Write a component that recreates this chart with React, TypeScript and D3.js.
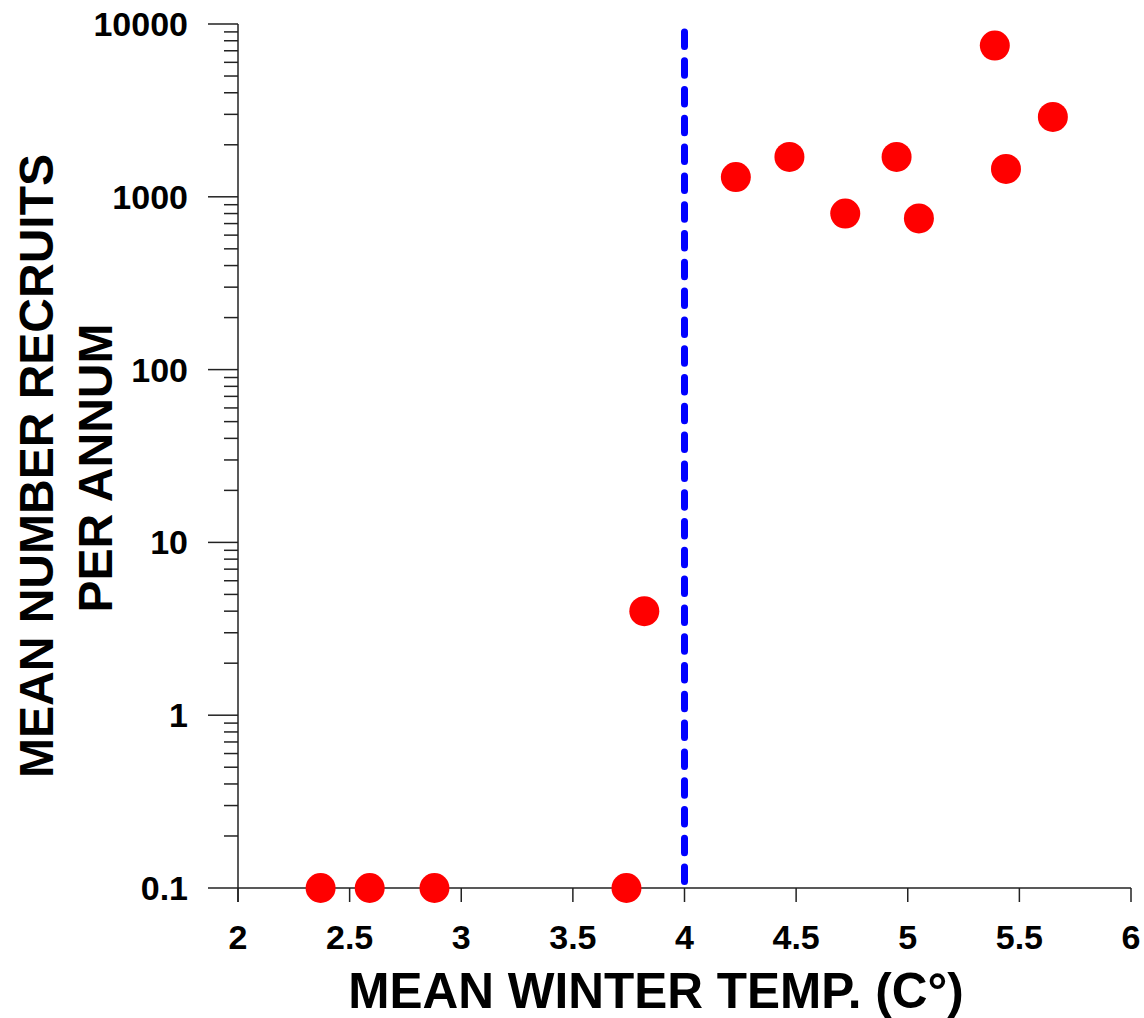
import React from "react";
import * as d3 from "d3";

const temps = [2.37, 2.59, 2.88, 3.74, 3.82, 4.23, 4.47, 4.72, 4.95, 5.05, 5.39, 5.44, 5.65];
const recruits = [0.1, 0.1, 0.1, 0.1, 4, 1300, 1700, 800, 1700, 750, 7500, 1450, 2900];
const xTicks = [2, 2.5, 3, 3.5, 4, 4.5, 5, 5.5, 6];
const xTickLabels = ["2", "2.5", "3", "3.5", "4", "4.5", "5", "5.5", "6"];
const yMajor = [0.1, 1, 10, 100, 1000, 10000];
const yMajorLabels = ["0.1", "1", "10", "100", "1000", "10000"];
const threshold = 4;
const thresholdRange = [9000, 0.1];
const xTitle = "MEAN WINTER TEMP. (C°)";
const yTitle = ["MEAN NUMBER RECRUITS", "PER ANNUM"];

export default function App() {
  const W = 1144, H = 1018;
  const x = d3.scaleLinear().domain([2, 6]).range([238, 1131]);
  const y = d3.scaleLog().domain([0.1, 10000]).range([888, 24]);
  const font = "'Liberation Sans', Arial, sans-serif";
  const minor: number[] = [];
  for (let i = 0; i < yMajor.length - 1; i++) {
    for (let k = 2; k <= 9; k++) minor.push(yMajor[i] * k);
  }
  const axisColor = "#222";
  const line = d3.line<number>().x(() => x(threshold)).y((d) => y(d));
  return (
    <svg width={W} height={H} style={{ position: "absolute", left: 0, top: 0, background: "#fff" }}>
      <rect width={W} height={H} fill="#fff" />
      {/* y axis */}
      <line x1={x(2)} x2={x(2)} y1={y(10000)} y2={y(0.1) + 14} stroke={axisColor} strokeWidth={1.5} />
      {minor.map((v, i) => (
        <line key={"mn" + i} x1={x(2) - 14} x2={x(2)} y1={y(v)} y2={y(v)} stroke={axisColor} strokeWidth={1.5} />
      ))}
      {yMajor.map((v, i) => (
        <g key={"mj" + i}>
          <line x1={x(2) - 30} x2={x(2)} y1={y(v)} y2={y(v)} stroke={axisColor} strokeWidth={1.5} />
          <text x={188} y={y(v)} dy="0.35em" textAnchor="end" fontFamily={font} fontWeight="bold" fontSize={34} fill="#000">
            {yMajorLabels[i]}
          </text>
        </g>
      ))}
      {/* x axis */}
      <line x1={x(2)} x2={x(6)} y1={y(0.1)} y2={y(0.1)} stroke={axisColor} strokeWidth={1.5} />
      {xTicks.map((v, i) => (
        <g key={"xt" + i}>
          <line x1={x(v)} x2={x(v)} y1={y(0.1)} y2={y(0.1) + 14} stroke={axisColor} strokeWidth={1.5} />
          <text x={x(v)} y={949} textAnchor="middle" fontFamily={font} fontWeight="bold" fontSize={34} fill="#000">
            {xTickLabels[i]}
          </text>
        </g>
      ))}
      {/* threshold line */}
      <path
        d={line(thresholdRange) || ""}
        fill="none"
        stroke="#0000ff"
        strokeWidth={7}
        strokeLinecap="round"
        strokeDasharray="14.5 14.3"
      />
      {/* points */}
      {temps.map((t, i) => (
        <circle key={"p" + i} cx={x(t)} cy={y(recruits[i])} r={15} fill="#ff0000" />
      ))}
      {/* titles */}
      <text x={656} y={1008} textAnchor="middle" fontFamily={font} fontWeight="bold" fontSize={49.5} fill="#000">
        {xTitle}
      </text>
      <text transform="translate(53,466) rotate(-90)" textAnchor="middle" fontFamily={font} fontWeight="bold" fontSize={48} fill="#000">
        {yTitle[0]}
      </text>
      <text transform="translate(112,468) rotate(-90)" textAnchor="middle" fontFamily={font} fontWeight="bold" fontSize={48} fill="#000">
        {yTitle[1]}
      </text>
    </svg>
  );
}
